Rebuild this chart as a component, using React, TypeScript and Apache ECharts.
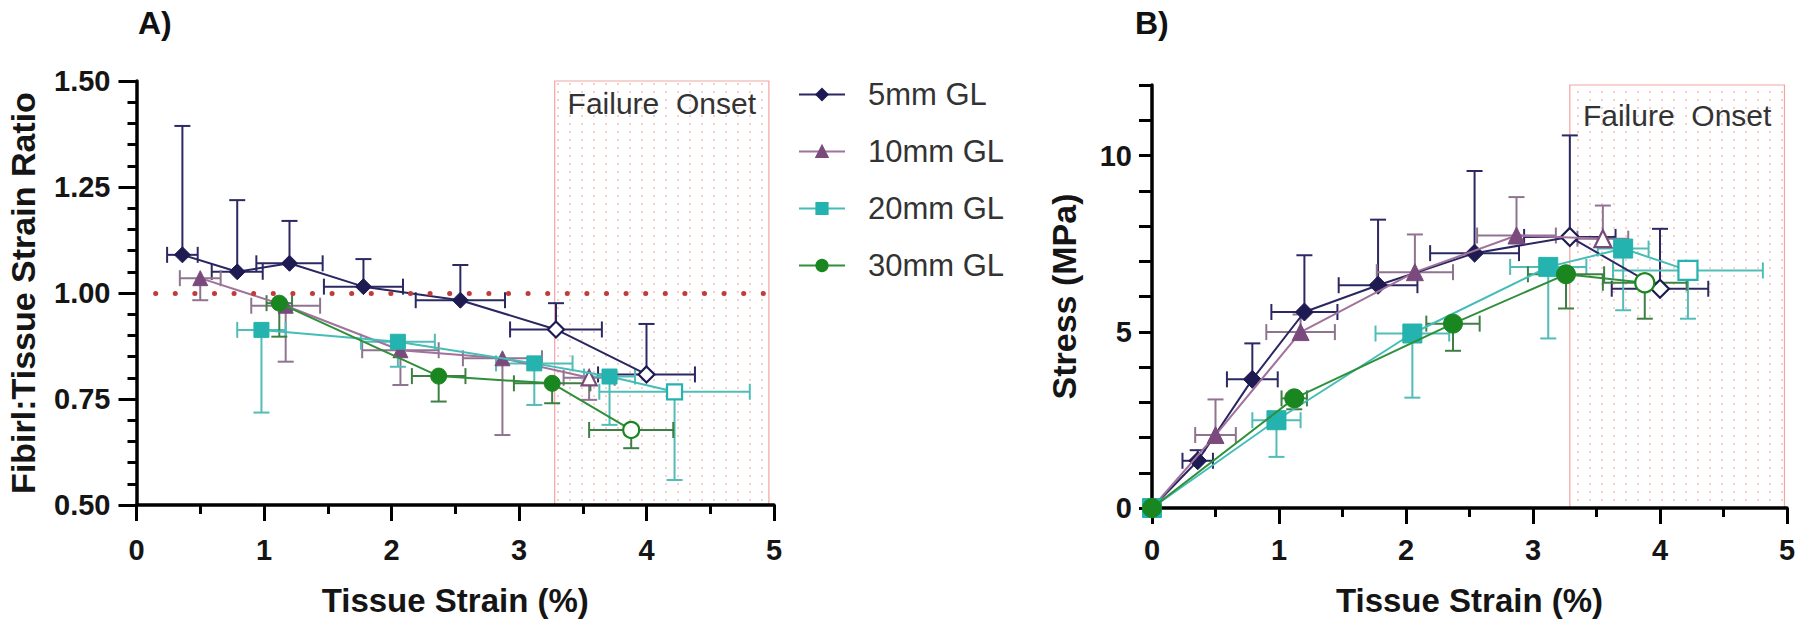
import React, { useEffect, useRef } from "react";
import * as echarts from "echarts";

const FONT = "'Liberation Sans', Arial, Helvetica, sans-serif";

// ---------- series meta ----------
const SERIES_NAMES = ["5mm GL", "10mm GL", "20mm GL", "30mm GL"];
const SYMBOLS = ["diamond", "triangle", "rect", "circle"];
const MARKER_COLORS = ["#1e1a52", "#7a4a7c", "#24b3ae", "#1a861f"];
const LINE_COLORS = ["#2a2662", "#a0729c", "#45bdb7", "#2f8f3a"];
const ERR_COLORS = ["#2c2862", "#8f7490", "#52bdb7", "#3f7f45"];

// ---------- tissue strain (%) ----------
const strain5mm = [0.36, 0.79, 1.2, 1.78, 2.54, 3.29, 4.0];
const strain10mm = [0.5, 1.17, 2.07, 2.87, 3.55];
const strain20mm = [0.98, 2.05, 3.12, 3.71, 4.22];
const strain30mm = [1.12, 2.37, 3.26, 3.88];
const strainErr5mm = [0.12, 0.2, 0.26, 0.31, 0.35, 0.36, 0.38];
const strainErr10mm = [0.16, 0.27, 0.3, 0.31, 0.2];
const strainErr20mm = [0.19, 0.29, 0.3, 0.2, 0.59];
const strainErr30mm = [0.1, 0.21, 0.3, 0.33];

// ---------- panel A: fibril:tissue strain ratio ----------
const ratio5mm = [1.09, 1.05, 1.07, 1.015, 0.983, 0.914, 0.808];
const ratio10mm = [1.035, 0.97, 0.865, 0.846, 0.8];
const ratio20mm = [0.913, 0.885, 0.834, 0.803, 0.767];
const ratio30mm = [0.976, 0.804, 0.787, 0.677];
const ratioErr5mm = [0.304, 0.169, 0.1, 0.065, 0.083, 0.062, 0.119];
const ratioErr10mm = [0.052, 0.132, 0.082, 0.181, 0.052];
const ratioErr20mm = [0.195, 0.059, 0.098, 0.114, 0.208];
const ratioErr30mm = [0.079, 0.06, 0.047, 0.043];

// ---------- panel B: stress (MPa) ----------
const stress5mm = [1.34, 3.65, 5.56, 6.32, 7.23, 7.69, 6.22];
const stress10mm = [2.07, 4.99, 6.69, 7.73, 7.64];
const stress20mm = [2.49, 4.95, 6.84, 7.36, 6.74];
const stress30mm = [3.11, 5.23, 6.63, 6.39];
const stressErr5mm = [0.3, 1.02, 1.61, 1.86, 2.33, 2.88, 1.7];
const stressErr10mm = [1.01, 0.5, 1.07, 1.09, 0.94];
const stressErr20mm = [1.04, 1.82, 2.03, 1.75, 1.37];
const stressErr30mm = [0.31, 0.77, 0.97, 1.02];

// index from which points are drawn hollow (failure region)
const HOLLOW_FROM = [5, 4, 4, 3];
// error bar direction (+1 above, -1 below)
const ERR_DIR_A = [1, -1, -1, -1];
const ERR_DIR_B = [1, 1, -1, -1];

// failure onset region & reference line
const FAILURE_X_A = [3.28, 4.96];
const FAILURE_Y_A = [0.5, 1.51];
const FAILURE_X_B = [3.29, 4.98];
const FAILURE_Y_B = [0, 12.17];
const REF_LINE_A = { y: 1.0, x0: 0.15, x1: 4.96 };

const STRAINS = [strain5mm, strain10mm, strain20mm, strain30mm];
const STRAIN_ERRS = [strainErr5mm, strainErr10mm, strainErr20mm, strainErr30mm];
const RATIOS = [ratio5mm, ratio10mm, ratio20mm, ratio30mm];
const RATIO_ERRS = [ratioErr5mm, ratioErr10mm, ratioErr20mm, ratioErr30mm];
const STRESSES = [stress5mm, stress10mm, stress20mm, stress30mm];
const STRESS_ERRS = [stressErr5mm, stressErr10mm, stressErr20mm, stressErr30mm];

function makeErrRender(dir: number, color: string, cap: number) {
  return (_params: any, api: any) => {
    const x = api.value(0);
    const y = api.value(1);
    const xe = api.value(2);
    const ye = api.value(3);
    const p = api.coord([x, y]);
    const style = { stroke: color, lineWidth: 2 };
    const children: any[] = [];
    if (xe > 0) {
      const l = api.coord([x - xe, y]);
      const r = api.coord([x + xe, y]);
      children.push({ type: "line", shape: { x1: l[0], y1: l[1], x2: r[0], y2: r[1] }, style });
      children.push({ type: "line", shape: { x1: l[0], y1: l[1] - cap / 2, x2: l[0], y2: l[1] + cap / 2 }, style });
      children.push({ type: "line", shape: { x1: r[0], y1: r[1] - cap / 2, x2: r[0], y2: r[1] + cap / 2 }, style });
    }
    if (ye > 0) {
      const v = api.coord([x, y + dir * ye]);
      children.push({ type: "line", shape: { x1: p[0], y1: p[1], x2: v[0], y2: v[1] }, style });
      children.push({ type: "line", shape: { x1: v[0] - cap / 2, y1: v[1], x2: v[0] + cap / 2, y2: v[1] }, style });
    }
    return { type: "group", children };
  };
}

function dotPattern(): any {
  const c = document.createElement("canvas");
  c.width = 12;
  c.height = 8;
  const ctx = c.getContext("2d");
  if (ctx) {
    ctx.fillStyle = "#ffffff";
    ctx.fillRect(0, 0, 12, 8);
    ctx.fillStyle = "rgba(240,175,175,0.6)";
    ctx.fillRect(5, 3, 2, 2);
  }
  return { image: c, repeat: "repeat", imageWidth: 12, imageHeight: 8 };
}

function buildPanel(
  panel: number,
  ys: number[][],
  yErrs: number[][],
  dirs: number[],
  withOrigin: boolean,
  sizes: number[]
) {
  const series: any[] = [];
  for (let s = 0; s < 4; s++) {
    const xs = STRAINS[s];
    const rows = xs.map((x, i) => [x, ys[s][i], STRAIN_ERRS[s][i], yErrs[s][i]]);
    series.push({
      type: "custom",
      name: SERIES_NAMES[s] + " error",
      xAxisIndex: panel,
      yAxisIndex: panel,
      renderItem: makeErrRender(dirs[s], ERR_COLORS[s], 16),
      data: rows,
      encode: { x: 0, y: 1 },
      z: 2,
      silent: true,
      clip: false,
    });
  }
  for (let s = 0; s < 4; s++) {
    const xs = STRAINS[s];
    const pts: any[] = xs.map((x, i) =>
      i >= HOLLOW_FROM[s]
        ? {
            value: [x, ys[s][i]],
            itemStyle: { color: "#ffffff", borderColor: MARKER_COLORS[s], borderWidth: 2.2 },
          }
        : { value: [x, ys[s][i]] }
    );
    if (withOrigin) pts.unshift({ value: [0, 0] });
    series.push({
      type: "line",
      name: SERIES_NAMES[s],
      xAxisIndex: panel,
      yAxisIndex: panel,
      data: pts,
      symbol: SYMBOLS[s],
      symbolSize: sizes[s],
      showSymbol: true,
      lineStyle: { color: LINE_COLORS[s], width: 2 },
      itemStyle: { color: MARKER_COLORS[s], borderColor: MARKER_COLORS[s], borderWidth: 1 },
      emphasis: { disabled: true },
      z: 3 + s,
      clip: false,
    });
  }
  return series;
}

function axisCommon(extra: any) {
  return {
    type: "value",
    splitLine: { show: false },
    axisLine: { show: true, onZero: false, lineStyle: { color: "#000", width: 3.5 } },
    axisTick: { show: true, length: 16, lineStyle: { color: "#000", width: 3 } },
    minorTick: { show: true, length: 9, lineStyle: { color: "#000", width: 3 } },
    minorSplitLine: { show: false },
    axisLabel: {
      fontFamily: FONT,
      fontSize: 29,
      fontWeight: "bold",
      color: "#151515",
      showMinLabel: true,
      showMaxLabel: true,
      hideOverlap: false,
    },
    nameLocation: "middle",
    nameTextStyle: { fontFamily: FONT, fontWeight: "bold", color: "#151515" },
    ...extra,
  };
}

function buildOption(): any {
  const pattern = dotPattern();
  const seriesA = buildPanel(0, RATIOS, RATIO_ERRS, ERR_DIR_A, false, [16, 15, 15, 16]);
  const seriesB = buildPanel(1, STRESSES, STRESS_ERRS, ERR_DIR_B, true, [18, 17, 19, 19]);

  const areaStyle = {
    color: pattern,
    borderColor: "#f2a3a3",
    borderWidth: 1.2,
  };
  const firstLineA = seriesA[4];
  firstLineA.markArea = {
    silent: true,
    itemStyle: areaStyle,
    label: {
      show: true,
      position: "insideTop",
      distance: 8,
      formatter: "Failure  Onset",
      fontFamily: FONT,
      fontSize: 30,
      color: "#333",
    },
    data: [[{ coord: [FAILURE_X_A[0], FAILURE_Y_A[1]] }, { coord: [FAILURE_X_A[1], FAILURE_Y_A[0]] }]],
    z: 0,
  };
  firstLineA.markLine = {
    silent: true,
    symbol: ["none", "none"],
    label: { show: false },
    lineStyle: { color: "#c23b3b", width: 5, type: [0.1, 19.5], cap: "round" },
    data: [[{ coord: [REF_LINE_A.x0, REF_LINE_A.y] }, { coord: [REF_LINE_A.x1, REF_LINE_A.y] }]],
  };
  const firstLineB = seriesB[4];
  firstLineB.markArea = {
    silent: true,
    itemStyle: areaStyle,
    label: {
      show: true,
      position: "insideTop",
      distance: 16,
      formatter: "Failure  Onset",
      fontFamily: FONT,
      fontSize: 30,
      color: "#333",
    },
    data: [[{ coord: [FAILURE_X_B[0], FAILURE_Y_B[1]] }, { coord: [FAILURE_X_B[1], FAILURE_Y_B[0]] }]],
    z: 0,
  };

  return {
    animation: false,
    backgroundColor: "#ffffff",
    textStyle: { fontFamily: FONT },
    title: [
      { text: "A)", left: 138, top: 7, padding: 0, textStyle: { fontFamily: FONT, fontSize: 32, fontWeight: "bold", color: "#111" } },
      { text: "B)", left: 1135, top: 7, padding: 0, textStyle: { fontFamily: FONT, fontSize: 32, fontWeight: "bold", color: "#111" } },
    ],
    legend: {
      data: SERIES_NAMES,
      orient: "vertical",
      left: 798,
      top: 78,
      padding: 0,
      itemWidth: 46,
      itemHeight: 14,
      itemGap: 24,
      selectedMode: false,
      textStyle: { fontFamily: FONT, fontSize: 31, color: "#333", lineHeight: 33, padding: [0, 0, 0, 18] },
    },
    grid: [
      { left: 136.5, right: 1026, top: 81, bottom: 121, outerBoundsMode: "none" },
      { left: 1152, right: 13, top: 85, bottom: 118, outerBoundsMode: "none" },
    ],
    xAxis: [
      axisCommon({
        gridIndex: 0,
        min: 0,
        max: 5,
        interval: 1,
        minorTick: { show: true, splitNumber: 2, length: 9, lineStyle: { color: "#000", width: 3 } },
        axisLabel: { ...axisCommon({}).axisLabel, margin: 30 },
        name: "Tissue Strain (%)",
        nameGap: 79,
        nameTextStyle: { fontFamily: FONT, fontWeight: "bold", fontSize: 33, color: "#151515" },
      }),
      axisCommon({
        gridIndex: 1,
        min: 0,
        max: 5,
        interval: 1,
        minorTick: { show: true, splitNumber: 2, length: 9, lineStyle: { color: "#000", width: 3 } },
        axisLabel: { ...axisCommon({}).axisLabel, margin: 27 },
        name: "Tissue Strain (%)",
        nameGap: 76,
        nameTextStyle: { fontFamily: FONT, fontWeight: "bold", fontSize: 33, color: "#151515" },
      }),
    ],
    yAxis: [
      axisCommon({
        gridIndex: 0,
        min: 0.5,
        max: 1.5,
        interval: 0.25,
        axisTick: { show: true, length: 18, lineStyle: { color: "#000", width: 3 } },
        minorTick: { show: true, splitNumber: 5, length: 9, lineStyle: { color: "#000", width: 3 } },
        axisLabel: { ...axisCommon({}).axisLabel, margin: 26, formatter: (v: number) => v.toFixed(2) },
        name: "Fibirl:Tissue Strain Ratio",
        nameGap: 97,
        nameTextStyle: { fontFamily: FONT, fontWeight: "bold", fontSize: 34, color: "#151515" },
      }),
      axisCommon({
        gridIndex: 1,
        min: 0,
        max: 12,
        interval: 1,
        axisTick: { show: true, length: 13, lineStyle: { color: "#000", width: 3 } },
        minorTick: { show: false },
        axisLabel: {
          ...axisCommon({}).axisLabel,
          margin: 20,
          formatter: (v: number) => (v % 5 === 0 ? String(v) : ""),
        },
        name: "Stress (MPa)",
        nameGap: 71,
        nameTextStyle: { fontFamily: FONT, fontWeight: "bold", fontSize: 34, color: "#151515" },
      }),
    ],
    series: [...seriesA, ...seriesB],
  };
}

export default function App() {
  const ref = useRef<HTMLDivElement>(null);
  useEffect(() => {
    if (!ref.current) return;
    const chart = echarts.init(ref.current, null, { renderer: "svg" });
    chart.setOption(buildOption());
    return () => chart.dispose();
  }, []);
  return (
    <div
      ref={ref}
      style={{ position: "fixed", left: 0, top: 0, width: 1800, height: 626, background: "#ffffff" }}
    />
  );
}
